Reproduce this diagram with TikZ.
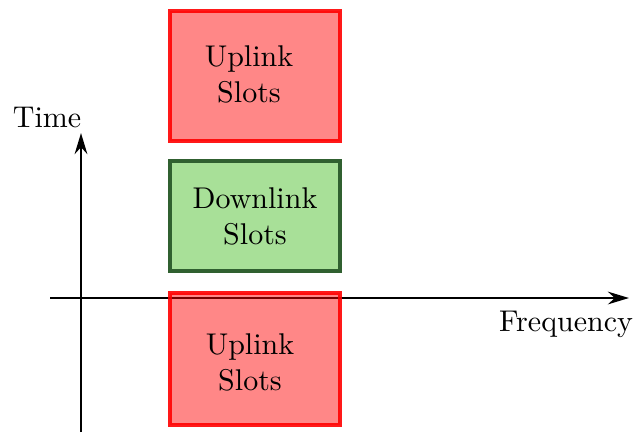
\documentclass[tikz,border=0pt]{standalone}
\usetikzlibrary{arrows.meta}
\definecolor{upfill}{RGB}{255,0,0}
\definecolor{downfill}{RGB}{168,224,152}
\definecolor{downborder}{RGB}{48,96,48}
\begin{document}
\begin{tikzpicture}[x=0.3333pt,y=-0.3333pt,
  axis/.style={line width=0.95pt,-{Stealth[length=7pt,width=4.2pt]}},
  lbl/.style={align=center,inner sep=0pt},
  upbox/.style={draw=red,draw opacity=0.9,fill=upfill,fill opacity=0.47,text opacity=1,line width=1.2pt,minimum width=56.67pt,align=center,inner sep=0pt},
  downbox/.style={draw=downborder,fill=downfill,line width=1.2pt,minimum width=56.67pt,minimum height=36.67pt,align=center,inner sep=0pt}]
\useasboundingbox (0,0) rectangle (638,432);
\coordinate (hs) at (50,298);
\coordinate (he) at (629,298);
\coordinate (vs) at (81,432);
\coordinate (ve) at (81,133);
\draw[axis] (hs) -- (he);
\draw[axis] (vs) -- (ve);
\node (time) at (47,117) {Time};
\node (freq) at (566,324) {Frequency};
\node[upbox,minimum height=43.33pt] (up1) at (255,76) {};
\node[lbl] (up1t) at (249,74) {Uplink\\Slots};
\node[downbox] (down) at (255,216) {Downlink\\Slots};
\node[upbox,minimum height=44pt] (up2) at (255,359) {};
\node[lbl] (up2t) at (250,362) {Uplink\\Slots};
\end{tikzpicture}
\end{document}
